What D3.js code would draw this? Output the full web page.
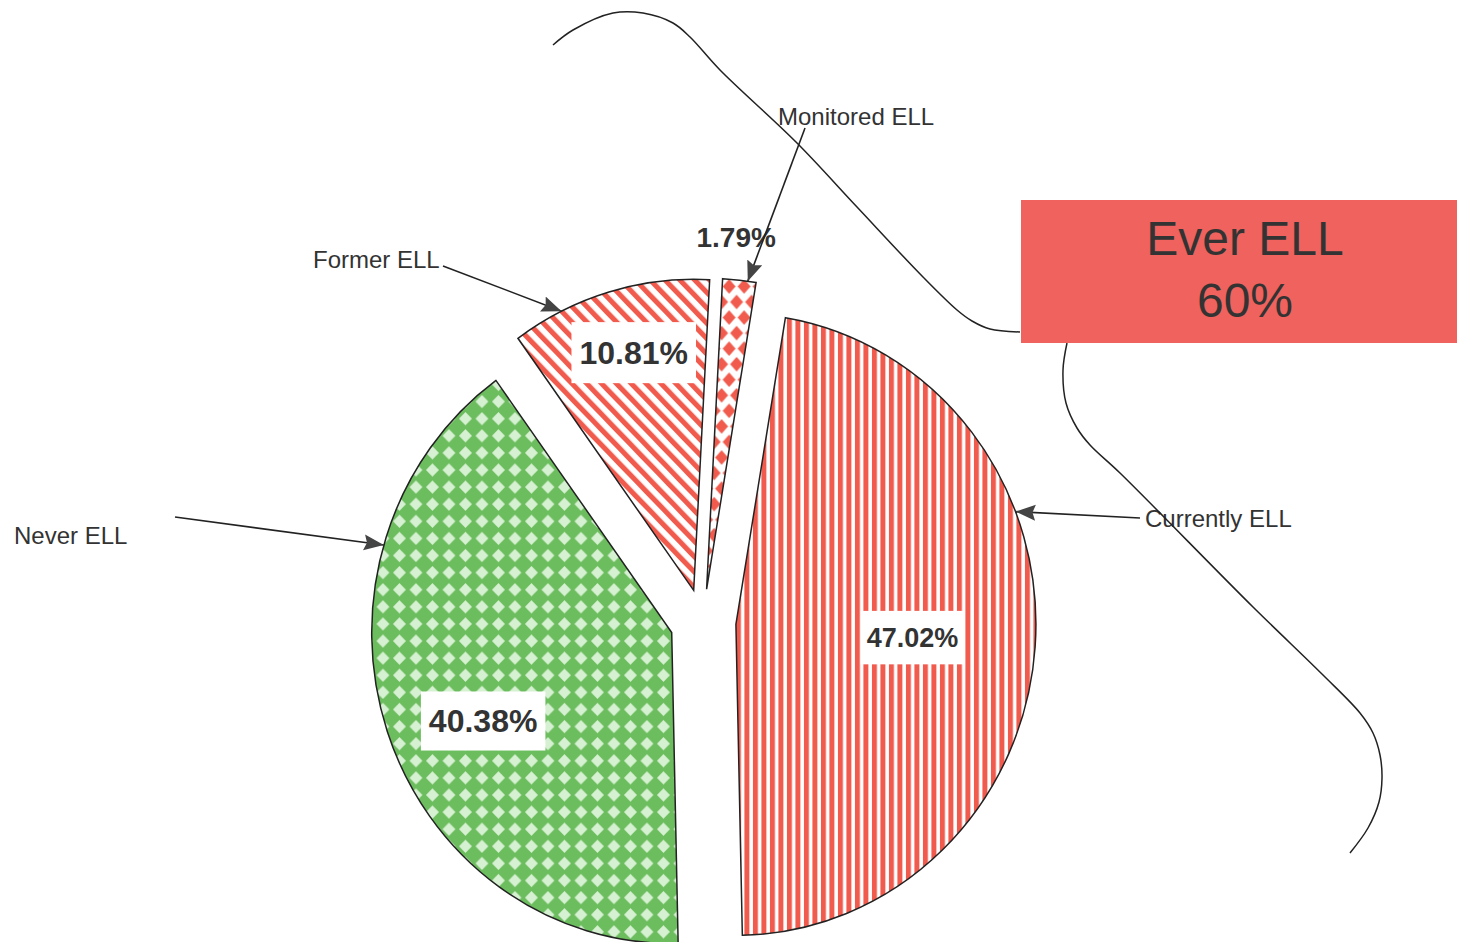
<!DOCTYPE html>
<html>
<head>
<meta charset="utf-8">
<script src="https://cdn.jsdelivr.net/npm/d3@7"></script>
<style>
  body { margin: 0; background: #fff; }
  text { font-family: "Liberation Sans", Arial, sans-serif; }
</style>
</head>
<body>
<div id="chart"></div>
<script>
// data
var categories = ["Currently ELL", "Never ELL", "Former ELL", "Monitored ELL"];
var shares = [47.02, 40.38, 10.81, 1.79];
var shareLabels = ["47.02%", "40.38%", "10.81%", "1.79%"];
var groupLabel = ["Ever ELL", "60%"];

var width = 1457, height = 942;
var cx = 703, cy = 622, rx = 300, ry = 311, explode = 33;
var startDeg = 9.5;
var ink = "#333";

// where each value label / callout sits (angle fraction inside slice, radius fraction)
var layout = {
  "Currently ELL": {fill: "url(#vstripe)", lab: [0.50, 0.59], size: 27, box: [6, 17], tip: 0.35, text: [1145, 527], tail: [1140, 518]},
  "Never ELL":     {fill: "url(#greenDiamond)", lab: [0.46, 0.69], size: 32, box: [8, 18], tip: 0.74, text: [14, 544], tail: [175, 517]},
  "Former ELL":    {fill: "url(#diag)", lab: [0.545, 0.79], size: 32, box: [8, 19], tip: 0.25, text: [313, 268], tail: [443, 266]},
  "Monitored ELL": {fill: "url(#redDiamond)", lab: [0.3, 1.135], size: 28, box: null, tip: 0.75, text: [778, 125], tail: [805, 128]}
};

var svg = d3.select("#chart").append("svg")
  .attr("width", width)
  .attr("height", height);

var defs = svg.append("defs");

function rad(d) { return d * Math.PI / 180; }

// fill patterns
var p = defs.append("pattern").attr("id", "vstripe")
  .attr("patternUnits", "userSpaceOnUse").attr("width", 8.5).attr("height", 10);
p.append("rect").attr("width", 8.5).attr("height", 10).attr("fill", "#fff");
p.append("rect").attr("width", 5).attr("height", 10).attr("fill", "#f15b4d");

p = defs.append("pattern").attr("id", "diag")
  .attr("patternUnits", "userSpaceOnUse").attr("width", 10.5).attr("height", 10)
  .attr("patternTransform", "rotate(-45)");
p.append("rect").attr("width", 10.5).attr("height", 10).attr("fill", "#fff");
p.append("rect").attr("width", 5).attr("height", 10).attr("fill", "#f15b4d");

p = defs.append("pattern").attr("id", "greenDiamond")
  .attr("patternUnits", "userSpaceOnUse").attr("width", 16.5).attr("height", 16.5);
p.append("rect").attr("width", 16.5).attr("height", 16.5).attr("fill", "#6cbd5e");
p.append("path").attr("d", "M8.25,1.8L14.7,8.25L8.25,14.7L1.8,8.25Z").attr("fill", "#d6f1d2");

p = defs.append("pattern").attr("id", "redDiamond")
  .attr("patternUnits", "userSpaceOnUse").attr("width", 15).attr("height", 30);
p.append("rect").attr("width", 15).attr("height", 30).attr("fill", "#fff");
p.append("path").attr("d", "M7.5,1L14,8L7.5,15L1,8Z").attr("fill", "#f15b4d");
p.append("path").attr("d", "M0,16L6.5,23L0,30L-6.5,23Z").attr("fill", "#f15b4d");
p.append("path").attr("d", "M15,16L21.5,23L15,30L8.5,23Z").attr("fill", "#f15b4d");

defs.append("marker").attr("id", "head")
  .attr("markerUnits", "userSpaceOnUse")
  .attr("markerWidth", 22).attr("markerHeight", 18)
  .attr("refX", 20).attr("refY", 8)
  .attr("orient", "auto")
  .append("path").attr("d", "M0,0L20,8L0,16L3,8Z").attr("fill", "#444");

// pie
var pie = d3.pie().sort(null).startAngle(rad(startDeg)).endAngle(rad(startDeg + 360));
var arcs = pie(shares);
var arc = d3.arc().innerRadius(0).outerRadius(rx);

function offset(d) {
  var m = (d.startAngle + d.endAngle) / 2;
  return [Math.sin(m) * explode, -Math.cos(m) * explode];
}
function point(d, frac, r) {
  var o = offset(d);
  var a = d.startAngle + frac * (d.endAngle - d.startAngle);
  return [cx + o[0] + Math.sin(a) * r * rx, cy + o[1] - Math.cos(a) * r * ry];
}

arcs.forEach(function (d, i) {
  var o = offset(d);
  svg.append("g")
    .attr("transform", "translate(" + (cx + o[0]) + "," + (cy + o[1]) + ") scale(1," + (ry / rx) + ")")
    .append("path")
    .attr("d", arc(d))
    .attr("fill", layout[categories[i]].fill)
    .attr("stroke", "#222")
    .attr("stroke-width", 1.5)
    .attr("vector-effect", "non-scaling-stroke");
});

// value labels
arcs.forEach(function (d, i) {
  var L = layout[categories[i]];
  var pt = point(d, L.lab[0], L.lab[1]);
  var g = svg.append("g");
  var t = g.append("text")
    .attr("x", pt[0]).attr("y", pt[1])
    .attr("text-anchor", "middle")
    .attr("dominant-baseline", "central")
    .style("font-size", L.size + "px")
    .style("font-weight", "bold")
    .style("fill", ink)
    .text(shareLabels[i]);
  if (L.box) {
    var bb = t.node().getBBox();
    g.insert("rect", "text")
      .attr("x", bb.x - L.box[0]).attr("y", pt[1] - L.box[1] - L.size * 0.36)
      .attr("width", bb.width + 2 * L.box[0])
      .attr("height", L.size * 0.72 + 2 * L.box[1])
      .attr("fill", "#fff");
  }
});

// callouts
arcs.forEach(function (d, i) {
  var L = layout[categories[i]];
  var tip = point(d, L.tip, 1.0);
  svg.append("line")
    .attr("x1", L.tail[0]).attr("y1", L.tail[1])
    .attr("x2", tip[0]).attr("y2", tip[1])
    .attr("stroke", "#222")
    .attr("stroke-width", 1.6)
    .attr("marker-end", "url(#head)");
  svg.append("text")
    .attr("x", L.text[0]).attr("y", L.text[1])
    .style("font-size", "24px")
    .style("fill", ink)
    .text(categories[i]);
});

// brace around the Ever ELL slices
var braceTop = [[553,45],[573,30],[613,13],[643,13],[673,23],[690,37],[720,70],[797,143],[857,207],[923,277],[957,310],[972,321],[990,329],[1020,332]];
var braceBottom = [[1067,343],[1063,370],[1066,403],[1077,428],[1090,445],[1120,473],[1253,607],[1323,675],[1360,713],[1373,733],[1380,755],[1382,778],[1379,802],[1368,828],[1350,853]];
var line = d3.line().curve(d3.curveCatmullRom.alpha(0.5));
[braceTop, braceBottom].forEach(function (pts) {
  svg.append("path")
    .attr("d", line(pts))
    .attr("fill", "none")
    .attr("stroke", "#222")
    .attr("stroke-width", 1.5);
});

// Ever ELL box
svg.append("rect")
  .attr("x", 1021).attr("y", 200)
  .attr("width", 440).attr("height", 143)
  .attr("fill", "#ef625d");
groupLabel.forEach(function (s, i) {
  svg.append("text")
    .attr("x", 1245).attr("y", 255 + i * 62)
    .attr("text-anchor", "middle")
    .style("font-size", "48px")
    .style("fill", ink)
    .text(s);
});
</script>
</body>
</html>
